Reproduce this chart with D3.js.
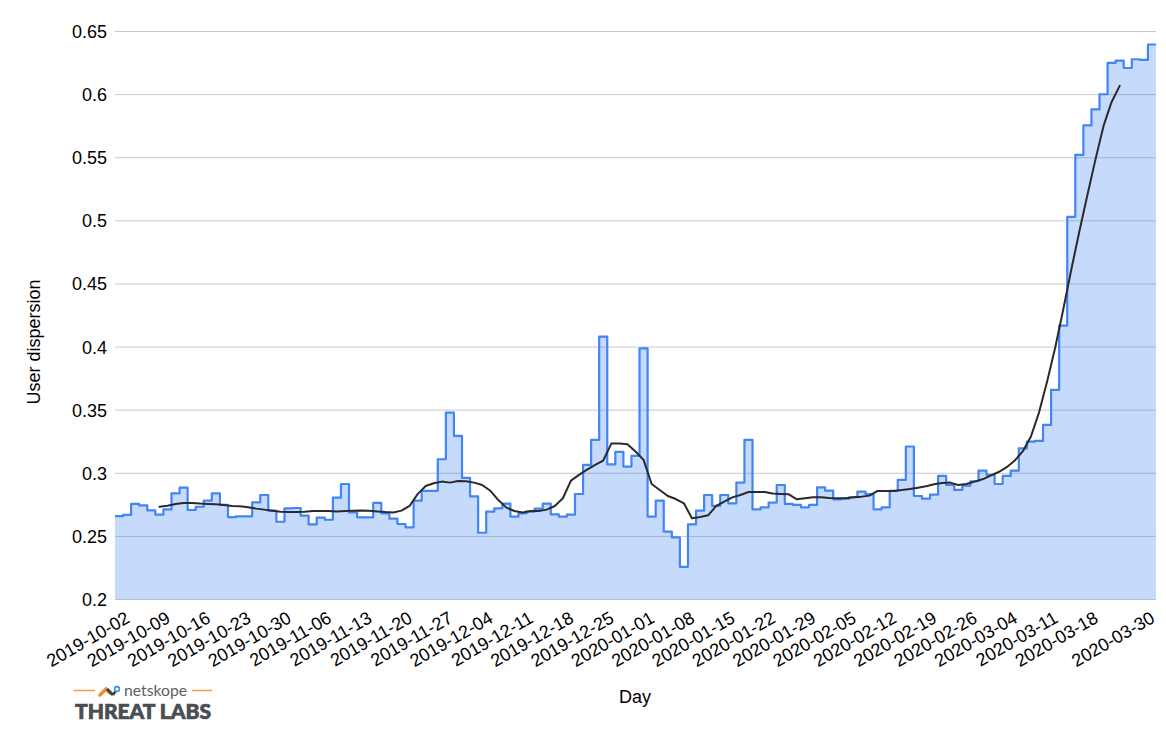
<!DOCTYPE html>
<html>
<head>
<meta charset="utf-8">
<script src="https://cdn.jsdelivr.net/npm/d3@7"></script>
<style>
html,body{margin:0;padding:0;background:#fff}
svg{display:block}
text{font-family:"Liberation Sans",Arial,sans-serif;fill:#000}
</style>
</head>
<body>
<svg id="chart" width="1166" height="745"></svg>
<script>
const categories = [
"2019-10-02","2019-10-03","2019-10-04","2019-10-07","2019-10-08","2019-10-09","2019-10-10","2019-10-11","2019-10-14","2019-10-15","2019-10-16","2019-10-17","2019-10-18","2019-10-21","2019-10-22","2019-10-23","2019-10-24","2019-10-25","2019-10-28","2019-10-29","2019-10-30","2019-10-31",
"2019-11-01","2019-11-04","2019-11-05","2019-11-06","2019-11-07","2019-11-08","2019-11-11","2019-11-12","2019-11-13","2019-11-14","2019-11-15","2019-11-18","2019-11-19","2019-11-20","2019-11-21","2019-11-22","2019-11-25","2019-11-26","2019-11-27","2019-11-28","2019-11-29",
"2019-12-02","2019-12-03","2019-12-04","2019-12-05","2019-12-06","2019-12-09","2019-12-10","2019-12-11","2019-12-12","2019-12-13","2019-12-16","2019-12-17","2019-12-18","2019-12-19","2019-12-20","2019-12-23","2019-12-24","2019-12-25","2019-12-26","2019-12-27","2019-12-30","2019-12-31",
"2020-01-01","2020-01-02","2020-01-03","2020-01-06","2020-01-07","2020-01-08","2020-01-09","2020-01-10","2020-01-13","2020-01-14","2020-01-15","2020-01-16","2020-01-17","2020-01-20","2020-01-21","2020-01-22","2020-01-23","2020-01-24","2020-01-27","2020-01-28","2020-01-29","2020-01-30","2020-01-31",
"2020-02-03","2020-02-04","2020-02-05","2020-02-06","2020-02-07","2020-02-10","2020-02-11","2020-02-12","2020-02-13","2020-02-14","2020-02-17","2020-02-18","2020-02-19","2020-02-20","2020-02-21","2020-02-24","2020-02-25","2020-02-26","2020-02-27","2020-02-28",
"2020-03-02","2020-03-03","2020-03-04","2020-03-05","2020-03-06","2020-03-09","2020-03-10","2020-03-11","2020-03-12","2020-03-13","2020-03-16","2020-03-17","2020-03-18","2020-03-19","2020-03-20","2020-03-23","2020-03-24","2020-03-25","2020-03-26","2020-03-27","2020-03-30"
];
const dispersion = [
.266,.267,.2757,.2746,.2706,.2672,.2714,.2841,.2886,.2709,.2735,.2783,.2841,.2749,.2653,.2659,.2659,.277,.2828,.2704,
.2616,.2722,.2725,.2664,.2595,.2648,.2632,.2807,.2915,.269,.2651,.2651,.2765,.2683,.264,.2598,.2571,.2783,.286,.286,
.3111,.3481,.3296,.2963,.2817,.2529,.2696,.2722,.2759,.2656,.2683,.2696,.272,.2759,.2675,.2656,.2672,.2836,.3066,.3265,
.4082,.3071,.3169,.3053,.3138,.399,.2656,.2783,.2537,.2492,.2259,.2595,.2704,.2828,.2741,.2828,.2762,.2926,.3265,.2714,
.273,.2767,.2907,.2757,.2749,.273,.2749,.2889,.2862,.2794,.2799,.281,.2855,.2836,.2714,.273,.286,.2947,.3212,.282,
.2799,.2831,.2979,.2907,.2868,.2902,.2937,.3021,.2987,.2915,.2979,.3021,.3198,.3251,.3257,.3384,.3661,.417,.5032,.5523,
.5756,.5883,.6003,.6252,.627,.6211,.628,.6275,.6397
];
const trendCategories = categories.slice(5, 125);
const trend = [
.2735,.2743,.2757,.2765,.2765,.276,.2757,.2754,.2749,.2741,.2738,.273,.272,.2712,.2704,.2696,.2693,.2693,.2696,.2701,
.2701,.2701,.2698,.2701,.2704,.2706,.2704,.2698,.2693,.269,.2704,.2741,.2835,.2899,.2921,.2934,.2926,.2939,.2937,.2926,
.2907,.2862,.2788,.2728,.2701,.269,.2701,.2701,.2712,.2741,.2802,.2942,.2987,.3029,.3066,.3101,.3235,.3235,.323,.3172,
.3106,.2915,.2868,.282,.2796,.2762,.2643,.2653,.2667,.2741,.2775,.2809,.2828,.2852,.2852,.2852,.2839,.2836,.2833,.2794,
.2802,.281,.281,.2804,.2802,.2802,.281,.2815,.2823,.286,.286,.286,.2868,.2876,.2886,.2897,.2913,.2923,.2926,.2907,
.2915,.2934,.2952,.2981,.301,.3048,.3101,.3175,.3291,.3481,.3726,.3992,.4296,.4613,.4915,.5205,.5487,.5752,.5942,.6069
];
const yTicks = [0.2,0.25,0.3,0.35,0.4,0.45,0.5,0.55,0.6,0.65];
const xTickLabels = [
"2019-10-02","2019-10-09","2019-10-16","2019-10-23","2019-10-30","2019-11-06","2019-11-13","2019-11-20","2019-11-27",
"2019-12-04","2019-12-11","2019-12-18","2019-12-25","2020-01-01","2020-01-08","2020-01-15","2020-01-22","2020-01-29",
"2020-02-05","2020-02-12","2020-02-19","2020-02-26","2020-03-04","2020-03-11","2020-03-18","2020-03-30"
];

const FONT = '"Liberation Sans",Arial,sans-serif';
const FS = 18;
const svg = d3.select("#chart");
const x = d3.scaleBand().domain(categories).range([115,1156]);
const y = d3.scaleLinear().domain([0.2,0.65]).range([599.5,31.5]);
const bw = x.bandwidth();

// y axis labels
svg.append("g").call(d3.axisLeft(y).tickValues(yTicks).tickSize(0).tickPadding(0).tickFormat(d3.format("~g")))
  .attr("transform","translate(107,0)")
  .call(g=>g.select(".domain").remove())
  .selectAll("text").attr("font-size",FS).style("font-family",FONT).attr("fill","#000").attr("dy","0.33em");
// gridlines
svg.append("g").selectAll("line").data(yTicks).join("line")
  .attr("x1",x.range()[0]).attr("x2",x.range()[1])
  .attr("y1",d=>y(d)).attr("y2",d=>y(d))
  .attr("stroke","#c8c8c8").attr("stroke-width",1);

// stepped area
const steps = dispersion.map((v,i)=>({px:x(categories[i]),v}));
steps.push({px:x(categories[categories.length-1])+bw,v:dispersion[dispersion.length-1]});
svg.append("path").datum(steps)
  .attr("d",d3.area().curve(d3.curveStepAfter).x(d=>d.px).y0(y(0.2)).y1(d=>y(d.v)))
  .attr("fill","#4285f4").attr("fill-opacity",0.3);
svg.append("path").datum(steps)
  .attr("d",d3.line().curve(d3.curveStepAfter).x(d=>d.px).y(d=>y(d.v)))
  .attr("fill","none").attr("stroke","#4285f4").attr("stroke-width",2.2).attr("stroke-linejoin","round");

// moving-average trend
svg.append("path").datum(trend)
  .attr("d",d3.line().x((d,i)=>x(trendCategories[i])+bw/2).y(d=>y(d)))
  .attr("fill","none").attr("stroke","#2a2a2a").attr("stroke-width",2).attr("stroke-linejoin","round").attr("stroke-linecap","round");

// x axis
const lastLabel = xTickLabels[xTickLabels.length-1];
svg.append("g").attr("transform",`translate(0,${y(0.2)})`)
  .call(d3.axisBottom(x).tickValues(xTickLabels).tickSize(0).tickPadding(0))
  .call(g=>g.select(".domain").remove())
  .selectAll("text")
  .attr("font-size",FS).style("font-family",FONT).attr("fill","#000")
  .attr("text-anchor","end").attr("y",0).attr("dy",0)
  .attr("transform",d=>`translate(${d===lastLabel?4:12},22) rotate(-30)`);

// axis titles
svg.append("text").attr("x",635).attr("y",703).attr("text-anchor","middle").attr("font-size",FS).text("Day");
svg.append("text").attr("transform","translate(40,342) rotate(-90)").attr("text-anchor","middle").attr("font-size",FS).text("User dispersion");

// logo
const logo = svg.append("g");
[[74,95],[192,212]].forEach(([a,b])=>logo.append("line").attr("x1",a).attr("x2",b).attr("y1",690.5).attr("y2",690.5).attr("stroke","#f59a45").attr("stroke-width",1.5));
logo.append("path").attr("d","M100,695 L106,689 L110,693").attr("fill","none").attr("stroke","#f28c2e").attr("stroke-width",3.5).attr("stroke-linecap","round");
logo.append("path").attr("d","M107,689 L113,695").attr("fill","none").attr("stroke","#3f444b").attr("stroke-width",3);
logo.append("path").attr("d","M113,695 L117,689").attr("fill","none").attr("stroke","#3f444b").attr("stroke-width",2.5);
logo.append("circle").attr("cx",117).attr("cy",689).attr("r",2.4).attr("fill","#fff").attr("stroke","#3d8fe0").attr("stroke-width",1.6);
logo.append("text").attr("x",124).attr("y",696).attr("textLength",63).attr("lengthAdjust","spacingAndGlyphs")
  .attr("font-size",16).style("font-family","Lato, sans-serif").style("fill","#5b5f64").text("netskope");
logo.append("text").attr("x",75).attr("y",719).attr("textLength",136).attr("lengthAdjust","spacingAndGlyphs")
  .attr("font-size",21).attr("font-weight",900).style("font-family","Lato, sans-serif").style("fill","#4a4d52").style("stroke","#4a4d52").style("stroke-width",0.7).text("THREAT LABS");
</script>
</body>
</html>
